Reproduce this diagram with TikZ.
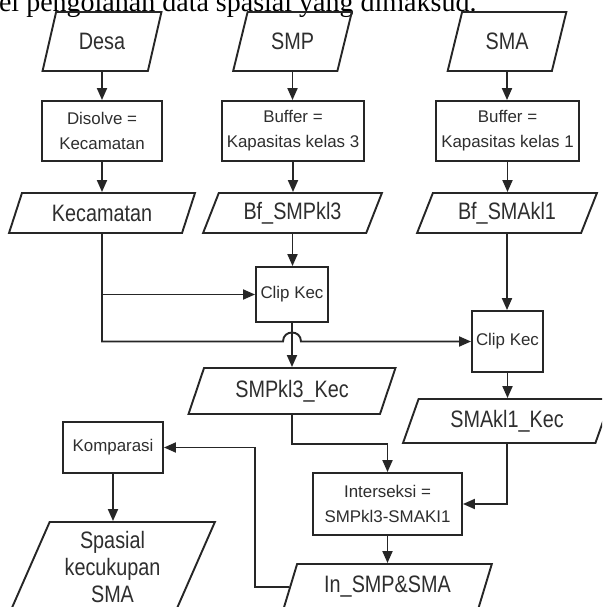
\documentclass[tikz,border=0pt]{standalone}
\usepackage{fontspec}
\setmainfont{Liberation Sans}
\newfontfamily\capfont{Liberation Serif}
\usetikzlibrary{shapes.geometric,arrows.meta}
\newcommand\dlab[1]{\scalebox{1}[1.2]{#1}}
\begin{document}
\begin{tikzpicture}[x=1pt,y=-1pt,
  box/.style={draw=black!85, line width=1.9pt, rectangle, inner sep=2pt, align=center,
    text=black!82, font=\fontsize{16.9}{25}\selectfont},
  data/.style={draw=black!85, line width=1.9pt, shape=trapezium, trapezium stretches=true,
    inner sep=1pt, align=center, text=black!82, font=\fontsize{19.8}{26.5}\selectfont},
  conn/.style={draw=black!85, line width=1.9pt},
  arr/.style={conn, -{Triangle[length=12pt,width=10pt]}}
]
\clip (0,0) rectangle (602,607);
\fill[white] (0,0) rectangle (602,607);

\node[anchor=base east, text=black, font=\capfont\fontsize{28}{30}\selectfont] (cap) at (480,11.5)
  {el pengolahan data spasial yang dimaksud.};

% top row
\node[data, trapezium left angle=69, trapezium right angle=111, minimum width=119, minimum height=59] (desa) at (102,41.5) {\dlab{Desa}};
\node[data, trapezium left angle=69, trapezium right angle=111, minimum width=119, minimum height=59] (smp) at (292.5,41.5) {\dlab{SMP}};
\node[data, trapezium left angle=69, trapezium right angle=111, minimum width=119, minimum height=59] (sma) at (507,41.5) {\dlab{SMA}};

\node[box, minimum width=120, minimum height=60] (disolve) at (102,131) {Disolve =\\Kecamatan};
\node[box, minimum width=142, minimum height=60] (buf1) at (293,131) {Buffer =\\Kapasitas kelas 3};
\node[box, minimum width=143, minimum height=60] (buf2) at (507.5,131) {Buffer =\\Kapasitas kelas 1};

\node[data, trapezium left angle=66, trapezium right angle=114, minimum width=186, minimum height=40] (kec) at (102,213) {\dlab{Kecamatan}};
\node[data, trapezium left angle=66, trapezium right angle=114, minimum width=179, minimum height=40] (bfsmp) at (292.5,213) {\dlab{Bf\_SMPkl3}};
\node[data, trapezium left angle=66, trapezium right angle=114, minimum width=180, minimum height=40] (bfsma) at (507,213) {\dlab{Bf\_SMAkl1}};

\node[box, minimum width=72, minimum height=55] (clip1) at (292,294.5) {Clip Kec};
\node[box, minimum width=71, minimum height=61] (clip2) at (507.5,341.5) {Clip Kec};

\node[data, trapezium left angle=67, trapezium right angle=113, minimum width=207, minimum height=46] (smpkec) at (292,391) {\dlab{SMPkl3\_Kec}};
\node[data, trapezium left angle=67, trapezium right angle=113, minimum width=208, minimum height=44] (smakec) at (507,421) {\dlab{SMAkl1\_Kec}};

\node[box, minimum width=149, minimum height=62] (inter) at (387.5,504) {Interseksi =\\SMPkl3-SMAKI1};
\node[box, minimum width=100, minimum height=51] (komp) at (113,447.5) {Komparasi};

\node[data, trapezium left angle=67, trapezium right angle=113, minimum width=205, minimum height=90] (spasial) at (112.5,567) {\dlab{Spasial}\\\dlab{kecukupan}\\\dlab{SMA}};
\node[data, trapezium left angle=67, trapezium right angle=113, minimum width=209, minimum height=46] (insma) at (387.5,587) {\dlab{In\_SMP\&SMA}};

\coordinate (hop) at (clip1.south |- clip2.west);
\coordinate (j3) at (255,447.5);

% connectors
\draw[arr] (desa.south) -- (desa.south |- disolve.north);
\draw[arr] (disolve.south) -- (disolve.south |- kec.north);
\draw[arr] (smp.south) -- (smp.south |- buf1.north);
\draw[arr] (buf1.south) -- (buf1.south |- bfsmp.north);
\draw[arr] (sma.south) -- (sma.south |- buf2.north);
\draw[arr] (buf2.south) -- (buf2.south |- bfsma.north);
\draw[arr] (bfsmp.south) -- (bfsmp.south |- clip1.north);
\draw[arr] (bfsma.south) -- (bfsma.south |- clip2.north);
\draw[arr] (kec.south |- clip1.west) -- (clip1.west);
\draw[arr] (kec.south) |- ([xshift=-9pt]hop) .. controls ([xshift=-9pt,yshift=12pt]hop) and ([xshift=9pt,yshift=12pt]hop) .. ([xshift=9pt]hop) -- (clip2.west);
\draw[arr] (clip1.south) -- (clip1.south |- smpkec.north);
\draw[arr] (clip2.south) -- (clip2.south |- smakec.north);
\draw[arr] (smpkec.south) -- ++(0,29) -| (inter.north);
\draw[arr] (smakec.south) |- (inter.east);
\draw[arr] (inter.south) -- (inter.south |- insma.north);
\draw[arr] (insma.west) -| (j3) -- (komp.east);
\draw[arr] (komp.south) -- (komp.south |- spasial.north);
\end{tikzpicture}
\end{document}
